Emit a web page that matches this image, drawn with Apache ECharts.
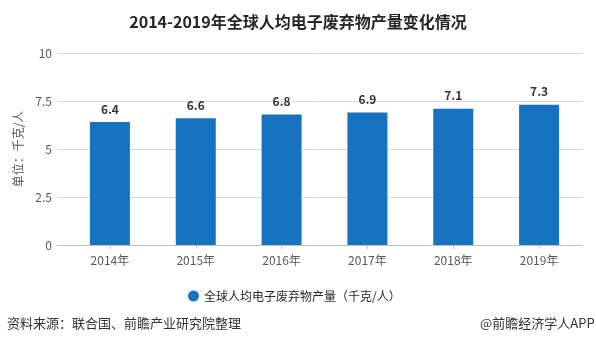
<!DOCTYPE html>
<html>
<head>
<meta charset="utf-8">
<script src="https://cdn.jsdelivr.net/npm/echarts@6/dist/echarts.min.js"></script>
<style>
  html, body { margin: 0; padding: 0; background: #fff; }
  #chart { width: 596px; height: 344px; }
</style>
</head>
<body>
<div id="chart"></div>
<script>
// Per-capita e-waste generation, 2014-2019 (kg per person)
const years = ['2014年', '2015年', '2016年', '2017年', '2018年', '2019年'];
const perCapita = [6.4, 6.6, 6.8, 6.9, 7.1, 7.3];
const yTicks = [0, 2.5, 5, 7.5, 10];

const seriesName = '全球人均电子废弃物产量（千克/人）';
const titleText = '2014-2019年全球人均电子废弃物产量变化情况';
const sourceText = '资料来源：联合国、前瞻产业研究院整理';
const creditText = '@前瞻经济学人APP';

const FONT = '"Microsoft YaHei", "Noto Sans CJK SC", sans-serif';
const BAR = '#1772c0';

const chart = echarts.init(document.getElementById('chart'), null, { renderer: 'canvas' });

chart.setOption({
  backgroundColor: '#ffffff',
  animation: false,
  textStyle: { fontFamily: FONT },
  title: {
    text: titleText,
    left: 'center',
    top: 9,
    textStyle: { fontSize: 16, fontWeight: 'bold', color: '#262626', fontFamily: FONT }
  },
  legend: {
    data: [seriesName],
    left: 183,
    top: 285,
    icon: 'circle',
    itemWidth: 11,
    itemHeight: 11,
    itemGap: 6,
    textStyle: { fontSize: 12, color: '#262626', fontFamily: FONT }
  },
  grid: [
    // background grid carrying the value axis and its gridlines
    { left: 57, right: 14, top: 53, bottom: 99 },
    // grid holding the bars
    { left: 67, right: 14, top: 53, bottom: 99 }
  ],
  xAxis: [
    {
      type: 'category',
      gridIndex: 0,
      data: years,
      axisLine: { show: true, lineStyle: { color: '#bfbfbf' } },
      axisTick: { show: false },
      axisLabel: { show: false },
      splitLine: { show: false }
    },
    {
      type: 'category',
      gridIndex: 1,
      data: years,
      axisLine: { show: false },
      axisTick: { show: true, alignWithLabel: true, length: 4, lineStyle: { color: '#bfbfbf' } },
      axisLabel: { fontSize: 12, color: '#595959', margin: 9, fontFamily: FONT },
      splitLine: { show: false }
    }
  ],
  yAxis: [
    {
      type: 'value',
      gridIndex: 0,
      min: yTicks[0],
      max: yTicks[yTicks.length - 1],
      interval: yTicks[1] - yTicks[0],
      name: '单位：千克/人',
      nameLocation: 'middle',
      nameGap: 26,
      nameRotate: 90,
      nameTextStyle: { fontSize: 12, color: '#595959', fontFamily: FONT },
      axisLine: { show: false },
      axisTick: { show: false },
      axisLabel: { fontSize: 12, color: '#595959', margin: 5, fontFamily: FONT },
      splitLine: { show: true, lineStyle: { color: '#d9d9d9', width: 1 } }
    },
    {
      type: 'value',
      gridIndex: 1,
      min: yTicks[0],
      max: yTicks[yTicks.length - 1],
      interval: yTicks[1] - yTicks[0],
      axisLine: { show: false },
      axisTick: { show: false },
      axisLabel: { show: false },
      splitLine: { show: false }
    }
  ],
  series: [
    {
      name: seriesName,
      type: 'bar',
      xAxisIndex: 1,
      yAxisIndex: 1,
      data: perCapita,
      barWidth: 40,
      itemStyle: { color: BAR },
      label: {
        show: true,
        position: 'top',
        distance: 7,
        fontSize: 12,
        fontWeight: 'bold',
        color: '#333333',
        fontFamily: FONT,
        formatter: p => p.value.toFixed(1)
      }
    }
  ],
  graphic: [
    {
      type: 'text',
      left: 7,
      top: 317,
      style: { text: sourceText, fontSize: 13, fill: '#333333', fontFamily: FONT }
    },
    {
      type: 'text',
      left: 480,
      top: 317,
      style: { text: creditText, fontSize: 13, fill: '#333333', fontFamily: FONT }
    }
  ]
});
</script>
</body>
</html>
